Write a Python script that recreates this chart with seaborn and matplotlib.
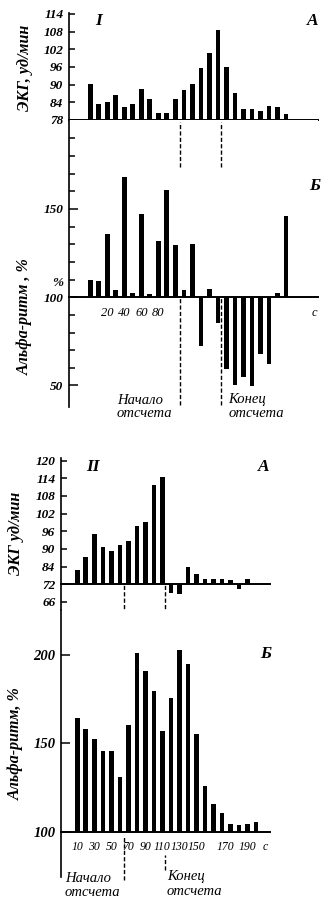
import numpy as np
import pandas as pd
import matplotlib
matplotlib.use("Agg")
import matplotlib.pyplot as plt
from matplotlib.transforms import ScaledTranslation
import seaborn as sns

# ---------------- Experiment I (10-second bins) ----------------
time_1 = [0, 10, 20, 30, 40, 50, 60, 70, 80, 90, 100, 110,
          120, 130, 140, 150, 160, 170, 180, 190, 200, 210, 220, 230]
ecg_1 = [90.1, 83.3, 84.1, 86.4, 82.3, 83.4, 88.4, 85.1, 80.4, 80.3, 85.2, 88.3,
         90.3, 95.7, 100.8, 108.4, 96.0, 87.2, 81.7, 81.6, 81.2, 82.6, 82.4, 79.9]
alpha_1 = [110, 109, 136, 104, 168, 102.6, 147, 102, 131.7, 161, 129.3, 104,
           130.3, 72.6, 104.5, 85.6, 59.5, 50.2, 54.9, 49.6, 67.9, 62.3, 102.6, 146]
ecg_base_1 = 78
alpha_base = 100
count_start_1, count_end_1 = 105, 154
ecg_ticks_1 = [78, 84, 90, 96, 102, 108, 114]
alpha_ticks_1 = [50, 100, 150]
alpha_minor_1 = [60, 70, 80, 90, 110, 120, 130, 140, 160, 170, 180, 190]
time_ticks_1 = [20, 40, 60, 80]

# ---------------- Experiment II (10-second bins) ----------------
time_2_ecg = [10, 20, 30, 40, 50, 60, 70, 80, 90, 100, 110,
              120, 130, 140, 150, 160, 170, 180, 190, 200, 210]
ecg_2 = [81.8, 87.2, 95.1, 90.8, 89.3, 91.5, 92.8, 97.7, 99.2, 111.6, 114.4,
         69.1, 68.8, 83.6, 79.0, 75.6, 75.3, 75.4, 75.1, 70.4, 75.9]
time_2_alpha = [10, 20, 30, 40, 50, 60, 70, 80, 90, 100, 110,
                120, 130, 140, 150, 160, 170, 180, 190, 200, 210, 220]
alpha_2 = [164.4, 158.4, 152.5, 145.8, 145.8, 131.2, 160.6, 201.1, 190.9, 179.7, 157.0,
           175.7, 202.9, 194.7, 155.1, 126.1, 115.6, 110.6, 104.2, 104.0, 104.2, 105.8]
ecg_base_2 = 72
count_start_2, count_end_2 = 65, 113
ecg_ticks_2 = [66, 72, 84, 90, 96, 102, 108, 114, 120]
alpha_ticks_2 = [100, 150, 200]
time_ticks_2 = [10, 30, 50, 70, 90, 110, 130, 150, 170, 190]

# ---------------- style ----------------
sns.set_theme(style="ticks", rc={
    "axes.edgecolor": "black", "xtick.color": "black", "ytick.color": "black",
    "text.color": "black", "axes.labelcolor": "black", "axes.facecolor": "white",
})
plt.rcParams["font.family"] = ["Liberation Serif", "DejaVu Serif"]
plt.rcParams["font.style"] = "italic"

W, H = 327, 901
fig = plt.figure(figsize=(W / 100, H / 100), dpi=100)


def box(left, top, right, bottom):
    return [left / W, 1 - bottom / H, (right - left) / W, (bottom - top) / H]


def px_text(x, y, s, **kw):
    fig.text(x / W, 1 - y / H, s, **kw)


ax1a = fig.add_axes(box(69, 13, 318, 120))
ax1b = fig.add_axes(box(69, 120, 318, 407))
ax2a = fig.add_axes(box(61, 458, 270, 610))
ax2b = fig.add_axes(box(61, 610, 270, 877))


def bars(ax, t, values, base):
    df = pd.DataFrame({"t": t, "dev": np.asarray(values, float) - base})
    sns.barplot(data=df, x="t", y="dev", native_scale=True, orient="x",
                color="black", saturation=1, width=0.55, errorbar=None,
                linewidth=0, ax=ax)
    ax.set_xlabel("")
    ax.set_ylabel("")


bars(ax1a, time_1, ecg_1, ecg_base_1)
bars(ax1b, time_1, alpha_1, alpha_base)
bars(ax2a, time_2_ecg, ecg_2, ecg_base_2)
bars(ax2b, time_2_alpha, alpha_2, alpha_base)


# heart-rate axis of experiment II: the 72-84 span is drawn at half scale
def _fwd(d):
    d = np.asarray(d, dtype=float)
    return np.where(d >= 12, d - 6, np.where(d >= 0, d / 2, d))


def _inv(p):
    p = np.asarray(p, dtype=float)
    return np.where(p >= 6, p + 6, np.where(p >= 0, p * 2, p))


ax2a.set_yscale("function", functions=(_fwd, _inv))

ax1a.set_xlim(-25.0, 267.7)
ax1b.set_xlim(-25.0, 267.7)
ax2a.set_xlim(-9.2, 236.5)
ax2b.set_xlim(-9.2, 236.5)

ax1a.set_ylim(0, 36.3)
ax1b.set_ylim(-62.2, 100.4)
ax2a.set_ylim(-8.73, 48.9)
ax2b.set_ylim(-25.6, 125.5)

for ax in (ax1a, ax1b, ax2a, ax2b):
    ax.spines["top"].set_visible(False)
    ax.spines["right"].set_visible(False)
    ax.spines["left"].set_linewidth(1.2)
    ax.spines["bottom"].set_linewidth(1.4)
    ax.yaxis.set_minor_locator(matplotlib.ticker.NullLocator())
for ax in (ax1b, ax2a, ax2b):
    ax.spines["bottom"].set_position(("data", 0))

tick_font = dict(fontweight="bold", fontstyle="italic")

# y ticks
ax1a.set_yticks([v - ecg_base_1 for v in ecg_ticks_1], [str(v) for v in ecg_ticks_1], **tick_font)
ax1b.set_yticks([v - alpha_base for v in alpha_ticks_1], [str(v) for v in alpha_ticks_1], **tick_font)
ax1b.set_yticks([v - alpha_base for v in alpha_minor_1], minor=True)
ax2a.set_yticks([v - ecg_base_2 for v in ecg_ticks_2], [str(v) for v in ecg_ticks_2], **tick_font)
ax2b.set_yticks([v - alpha_base for v in alpha_ticks_2], [str(v) for v in alpha_ticks_2], **tick_font)

for ax in (ax1a, ax2a):
    ax.tick_params(axis="y", which="major", direction="in", length=4, width=1.1,
                   labelsize=9.5, pad=4)
ax1b.tick_params(axis="y", which="major", direction="in", length=6.5, width=1.1,
                 labelsize=9.5, pad=4)
ax1b.tick_params(axis="y", which="minor", direction="in", length=4, width=1.1)
ax2b.tick_params(axis="y", which="major", direction="in", length=6.5, width=1.1,
                 labelsize=10.5, pad=4)

# x ticks: time in seconds printed under the alpha baseline
for ax in (ax1a, ax2a):
    ax.tick_params(axis="x", bottom=False, labelbottom=False)
ax1b.set_xticks(time_ticks_1 + [264], [str(v) for v in time_ticks_1] + ["c"])
ax2b.set_xticks(time_ticks_2 + [230.6], [str(v) for v in time_ticks_2] + ["c"])
ax1b.tick_params(axis="x", length=0, pad=7, labelsize=9)
ax2b.tick_params(axis="x", length=0, pad=7, labelsize=8.5)
# the last two labels of experiment II are set apart from their crowded neighbours
for lbl in ax2b.get_xticklabels():
    shift = {"170": 11.5, "190": 17.0}.get(lbl.get_text())
    if shift:
        lbl.set_transform(lbl.get_transform() + ScaledTranslation(shift / 100, 0, fig.dpi_scale_trans))

# beginning / end of the counting interval
dash = (0, (3, 1.6))
ax1b.vlines([count_start_1, count_end_1], 73.8, 99.3, colors="black", linestyles=dash, lw=1.0)
ax1b.vlines([count_start_1, count_end_1], -61, 0, colors="black", linestyles=dash, lw=1.0)
ax2a.vlines([count_start_2, count_end_2], -21.3, 0, colors="black", linestyles=dash, lw=1.0, clip_on=False)
ax2b.vlines([count_start_2], -27.3, -2.8, colors="black", linestyles=dash, lw=1.0, clip_on=False)
ax2b.vlines([count_end_2], -21.7, -13.1, colors="black", linestyles=dash, lw=1.0, clip_on=False)

# axis titles
lab = dict(fontsize=11.5, fontweight="bold", fontstyle="italic", va="center")
ax1a.set_ylabel("ЭКГ, уд/мин", **lab)
ax1a.yaxis.set_label_coords((25 - 69) / 249, (120 - 68) / 107)
ax1b.set_ylabel("Альфа-ритм , %", **lab)
ax1b.yaxis.set_label_coords((25 - 69) / 249, (407 - 317) / 287)
ax2a.set_ylabel("ЭКГ уд/мин", **lab)
ax2a.yaxis.set_label_coords((16 - 61) / 209, (610 - 533) / 152)
ax2b.set_ylabel("Альфа-ритм, %", **lab)
ax2b.yaxis.set_label_coords((15.5 - 61) / 209, (877 - 744) / 267)

# panel marks
mark = dict(fontsize=12.5, fontweight="bold", fontstyle="italic", ha="center", va="center")
px_text(99, 21, "I", **mark)
px_text(312.5, 21, "А", **mark)
px_text(315, 186, "Б", **mark)
px_text(93, 467, "II", **mark)
px_text(264, 467, "А", **mark)
px_text(266, 654, "Б", **mark)
px_text(63, 282.5, "%", fontsize=9.5, fontweight="bold", fontstyle="italic", ha="right", va="center")

# interval captions
cap = dict(fontsize=10.5, fontstyle="italic", ha="left", va="baseline")
px_text(116.7, 403.5, "Начало", **cap)
px_text(116.7, 417, "отсчета", **cap)
px_text(228.3, 402.5, "Конец", **cap)
px_text(228.3, 417, "отсчета", **cap)
px_text(65, 882, "Начало", **cap)
px_text(65, 896, "отсчета", **cap)
px_text(166.7, 880, "Конец", **cap)
px_text(166.7, 895, "отсчета", **cap)

fig.savefig("out.png", dpi=100)
